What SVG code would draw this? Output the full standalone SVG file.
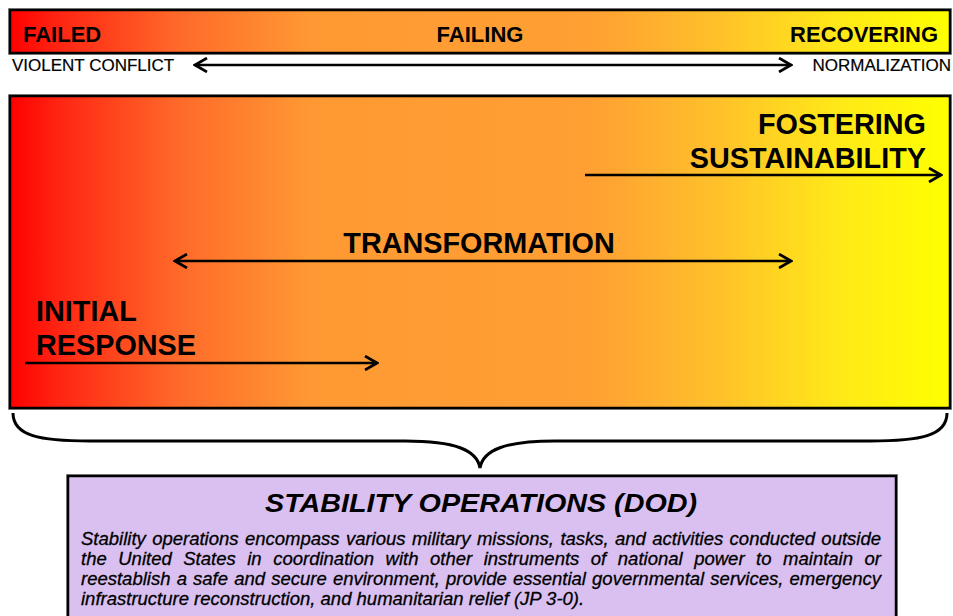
<svg xmlns="http://www.w3.org/2000/svg" width="953" height="616" viewBox="0 0 953 616">
  <style>
    .box { stroke: #000; stroke-width: 2.5; }
    .shadow { fill: none; stroke: #9a9a9a; stroke-width: 1; }
    .hdr { font-family: "Liberation Sans", Arial, sans-serif; font-weight: bold; font-size: 22px; fill: #000; }
    .end { font-family: "Liberation Sans", Arial, sans-serif; font-size: 17px; fill: #000; stroke: #000; stroke-width: 0.2; }
    .phase { font-family: "Liberation Sans", Arial, sans-serif; font-weight: bold; font-size: 28.8px; fill: #000; }
    .title { font-family: "Liberation Sans", Arial, sans-serif; font-weight: bold; font-style: italic; font-size: 26px; fill: #000; }
    .body { font-family: "Liberation Sans", Arial, sans-serif; font-style: italic; font-size: 18.5px; fill: #000; stroke: #000; stroke-width: 0.3; }
    .arrow { stroke: #000; stroke-width: 2.5; fill: none; }
    .brace { stroke: #000; stroke-width: 3; fill: none; }
  </style>
  <defs>
    <linearGradient id="grad" gradientUnits="userSpaceOnUse" x1="10" y1="0" x2="950" y2="0">
      <stop offset="0" stop-color="#ff0000"/>
      <stop offset="0.05" stop-color="#ff2412"/>
      <stop offset="0.18" stop-color="#ff6a2a"/>
      <stop offset="0.32" stop-color="#ff9933"/>
      <stop offset="0.62" stop-color="#ffa033"/>
      <stop offset="0.75" stop-color="#ffc02a"/>
      <stop offset="0.88" stop-color="#ffe818"/>
      <stop offset="1" stop-color="#ffff00"/>
    </linearGradient>
    <marker id="head" markerUnits="userSpaceOnUse" viewBox="-13 -8 15 16" refX="0" refY="0" markerWidth="15" markerHeight="16" orient="auto-start-reverse">
      <path d="M -12 -7 L 0 0 L -12 7" fill="none" stroke="#000" stroke-width="2.7"/>
    </marker>
  </defs>

  <g id="scale-bar">
    <rect class="shadow" x="8.5" y="8.5" width="943" height="46"/>
    <rect class="box" x="10" y="10" width="940" height="43" fill="url(#grad)"/>
    <text class="hdr" x="23" y="42">FAILED</text>
    <text class="hdr" x="480" y="42" text-anchor="middle">FAILING</text>
    <text class="hdr" x="938" y="42" text-anchor="end">RECOVERING</text>
    <text class="end" x="12" y="71">VIOLENT CONFLICT</text>
    <text class="end" x="951" y="71" text-anchor="end">NORMALIZATION</text>
  </g>

  <g id="phases-box">
    <rect class="shadow" x="8.5" y="94.5" width="943" height="315"/>
    <rect class="box" x="10" y="96" width="940" height="312" fill="url(#grad)"/>
  </g>

  <g id="fostering-sustainability">
    <text class="phase" x="926" y="134" text-anchor="end">FOSTERING</text>
    <text class="phase" x="926" y="168" text-anchor="end">SUSTAINABILITY</text>
  </g>
  <g id="transformation">
    <text class="phase" x="479" y="253" text-anchor="middle">TRANSFORMATION</text>
  </g>
  <g id="initial-response">
    <text class="phase" x="36" y="321">INITIAL</text>
    <text class="phase" x="36" y="355">RESPONSE</text>
  </g>

  <g id="connectors">
    <line class="arrow" x1="195" y1="65" x2="791" y2="65" marker-start="url(#head)" marker-end="url(#head)"/>
    <line class="arrow" x1="585" y1="175" x2="941" y2="175" marker-end="url(#head)"/>
    <line class="arrow" x1="175" y1="261" x2="791" y2="261" marker-start="url(#head)" marker-end="url(#head)"/>
    <line class="arrow" x1="25" y1="363" x2="377" y2="363" marker-end="url(#head)"/>
    <path class="brace" d="M 13 413 C 13 436, 40 441, 90 441 L 405 441 C 455 441, 477 450, 480 468 C 483 450, 505 441, 555 441 L 870 441 C 920 441, 947 436, 947 413"/>
  </g>

  <g id="stability-operations">
    <rect class="shadow" x="66.5" y="474.5" width="831" height="150"/>
    <rect class="box" x="68" y="476" width="828" height="150" fill="#dac0f1"/>
    <text class="title" x="481" y="512" text-anchor="middle" textLength="432" lengthAdjust="spacingAndGlyphs">STABILITY OPERATIONS (DOD)</text>
    <text class="body" x="81" y="545" word-spacing="1.24" textLength="800" lengthAdjust="spacing">Stability operations encompass various military missions, tasks, and activities conducted outside</text>
    <text class="body" x="81" y="565" word-spacing="6.4" textLength="800" lengthAdjust="spacing">the United States in coordination with other instruments of national power to maintain or</text>
    <text class="body" x="81" y="585" word-spacing="1.03" textLength="800" lengthAdjust="spacing">reestablish a safe and secure environment, provide essential governmental services, emergency</text>
    <text class="body" x="81" y="605">infrastructure reconstruction, and humanitarian relief (JP 3-0).</text>
  </g>
</svg>
